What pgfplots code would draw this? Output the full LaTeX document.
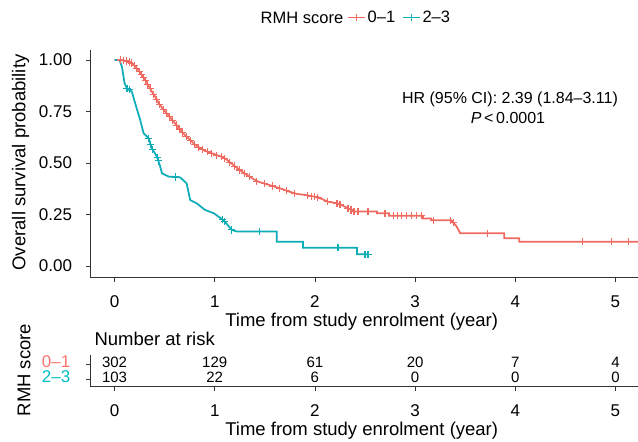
\documentclass[border=0pt]{standalone}
\usepackage{fontspec}
\setmainfont{Liberation Sans}
\usepackage{pgfplots}
\pgfplotsset{compat=1.18}
\definecolor{kmred}{HTML}{EF6B61}
\definecolor{kmteal}{HTML}{0DADB8}
\definecolor{lblred}{HTML}{F8766D}
\definecolor{lblteal}{HTML}{00BFC4}
\definecolor{axgrey}{HTML}{333333}

\newcommand{\fs}[1]{\fontsize{#1bp}{#1bp}\selectfont}

\pgfplotsset{
  kmbase/.style={
    scale only axis, width=547.5bp,
    xmin=-0.24, xmax=5.225,
    axis x line*=bottom, axis y line*=left,
    axis line style={axgrey, line width=0.8bp},
    tick style={axgrey, line width=0.8bp},
    tick align=outside, major tick length=4.5bp,
    xtick={0,1,2,3,4,5}, xticklabels={0,1,2,3,4,5},
    xticklabel style={font=\fs{17}, anchor=center, inner sep=0pt, yshift=-19.3bp},
    yticklabel style={anchor=east, inner sep=0pt},
  },
  censor/.style={only marks, mark=+, mark size=3.6bp, line width=1.1bp},
  kmline/.style={line width=1.75bp},
}

\begin{document}
\begin{tikzpicture}
\path[use as bounding box] (0,0) rectangle (638bp,-442bp);

% survival curves
\begin{axis}[kmbase,
  at={(90.5bp,-277.7bp)}, anchor=south west,
  height=228bp, ymin=-0.057, ymax=1.05,
  ytick={0,0.25,0.5,0.75,1}, yticklabels={0.00,0.25,0.50,0.75,1.00},
  yticklabel style={font=\fs{17}, xshift=-13.8bp},
  legend style={at={(0.5644,1.1412)}, anchor=center, draw=none, fill=none,
    font=\fs{16.5}, legend columns=-1,
    /tikz/every even column/.append style={column sep=4.5bp}},
  legend image code/.code={
    \draw[#1, line width=1.75bp] (0bp,0bp) -- (17bp,0bp);
    \draw[#1, line width=1.1bp] (8.5bp,-3.6bp) -- (8.5bp,3.6bp);
  },
]
\addlegendimage{kmred}
\addlegendentry{0–1}
\addlegendimage{kmteal}
\addlegendentry{2–3}

% RMH score 0-1
\addplot[kmred, kmline, forget plot] coordinates {
(0,1.0)(0.06,1.0)(0.10,0.997)(0.157,0.99)(0.19,0.978)(0.223,0.96)(0.26,0.935)
(0.306,0.903)(0.34,0.875)(0.373,0.846)(0.41,0.818)(0.44,0.79)(0.48,0.765)
(0.52,0.741)(0.57,0.712)(0.62,0.684)(0.67,0.652)(0.71,0.632)(0.755,0.612)
(0.80,0.59)(0.855,0.571)(0.92,0.556)(0.99,0.544)(1.04,0.535)(1.087,0.528)
(1.14,0.508)(1.186,0.49)(1.25,0.466)(1.32,0.442)(1.38,0.424)(1.436,0.409)
(1.55,0.392)(1.652,0.377)(1.73,0.363)(1.818,0.35)(1.90,0.345)(2.0,0.336)
(2.07,0.325)(2.13,0.312)(2.23,0.304)(2.29,0.29)(2.33,0.28)(2.39,0.264)
(2.62,0.264)(2.62,0.256)(2.74,0.256)(2.74,0.244)(3.08,0.244)(3.08,0.231)
(3.16,0.231)(3.16,0.222)(3.36,0.222)(3.38,0.21)(3.41,0.195)(3.43,0.178)
(3.45,0.159)(3.89,0.159)(3.89,0.134)(4.04,0.134)(4.04,0.118)(5.23,0.118)
};
\addplot[kmred, censor, forget plot] coordinates {
(0.06,1.0)(0.09,0.998)(0.12,0.995)(0.15,0.99)(0.17,0.985)(0.2,0.975)(0.22,0.96)
(0.25,0.943)(0.27,0.93)(0.29,0.915)(0.31,0.9)(0.33,0.883)(0.36,0.86)(0.39,0.833)
(0.42,0.808)(0.45,0.785)(0.49,0.76)(0.52,0.741)(0.55,0.724)(0.58,0.706)
(0.62,0.684)(0.65,0.665)(0.68,0.646)(0.72,0.627)(0.76,0.61)(0.8,0.59)
(0.84,0.575)(0.88,0.565)(0.93,0.554)(0.97,0.547)(1.02,0.538)(1.07,0.53)
(1.1,0.522)(1.15,0.504)(1.2,0.485)(1.25,0.466)(1.3,0.449)(1.35,0.433)
(1.42,0.412)(1.5,0.4)(1.58,0.388)(1.65,0.377)(1.72,0.365)(1.8,0.352)
(1.93,0.342)(1.97,0.339)(2.0,0.336)(2.03,0.331)(2.13,0.312)(2.22,0.305)
(2.25,0.30)(2.33,0.28)(2.36,0.272)(2.39,0.264)(2.43,0.264)(2.53,0.264)
(2.7,0.256)(2.78,0.244)(2.82,0.244)(2.86,0.244)(2.91,0.244)(2.96,0.244)
(3.01,0.244)(3.06,0.244)(3.18,0.222)(3.35,0.222)(3.38,0.21)(3.72,0.159)
(4.67,0.118)(4.96,0.118)(5.13,0.118)
};

% RMH score 2-3
\addplot[kmteal, kmline, forget plot] coordinates {
(0,1.0)(0.05,1.0)(0.074,0.967)(0.1,0.887)(0.124,0.862)(0.173,0.846)(0.206,0.79)
(0.256,0.709)(0.29,0.644)(0.34,0.62)(0.373,0.571)(0.423,0.531)(0.456,0.482)
(0.473,0.45)(0.54,0.434)(0.655,0.43)(0.72,0.401)(0.755,0.32)(0.82,0.304)
(0.904,0.272)(0.99,0.256)(1.087,0.223)(1.17,0.175)(1.22,0.167)(1.62,0.167)
(1.62,0.118)(1.88,0.118)(1.88,0.088)(2.42,0.088)(2.42,0.057)(2.53,0.057)
};
\addplot[kmteal, censor, forget plot] coordinates {
(0.124,0.862)(0.15,0.855)(0.34,0.62)(0.36,0.59)(0.38,0.565)(0.43,0.525)
(0.44,0.51)(0.61,0.432)(1.08,0.225)(1.10,0.215)(1.17,0.175)(1.45,0.167)
(2.23,0.088)(2.5,0.057)(2.53,0.057)
};
\end{axis}

% number at risk
\begin{axis}[kmbase,
  at={(90.5bp,-386.7bp)}, anchor=south west,
  height=31.5bp, ymin=0.5, ymax=2.6,
  ytick={1,2}, yticklabels={\textcolor{lblteal}{2–3},\textcolor{lblred}{0–1}},
  yticklabel style={font=\fs{17}, xshift=-15.5bp, text height=0.7em, text depth=0pt},
  clip=false,
]
\addplot[draw=none, forget plot] coordinates {(0,1)(5,2)};
\begin{scope}[every node/.style={font=\fs{15}, inner sep=0pt, text height=0.7em, text depth=0pt}]
\node at (axis cs:0,2) {302};
\node at (axis cs:1,2) {129};
\node at (axis cs:2,2) {61};
\node at (axis cs:3,2) {20};
\node at (axis cs:4,2) {7};
\node at (axis cs:5,2) {4};
\node at (axis cs:0,1) {103};
\node at (axis cs:1,1) {22};
\node at (axis cs:2,1) {6};
\node at (axis cs:3,1) {0};
\node at (axis cs:4,1) {0};
\node at (axis cs:5,1) {0};
\end{scope}
\end{axis}

% titles and labels
\node[font=\fs{16.5}] at (302bp,-17.5bp) {RMH score};
\node[font=\fs{18.5}, rotate=90] at (20.7bp,-162.5bp) {Overall survival probability};
\node[font=\fs{18.5}] at (361.7bp,-322bp) {Time from study enrolment (year)};
\node[font=\fs{18.5}] at (361.7bp,-431bp) {Time from study enrolment (year)};
\node[font=\fs{18.5}, rotate=90] at (24bp,-370bp) {RMH score};
\node[font=\fs{18.5}, anchor=west] at (91bp,-339bp) {Number at risk};
\node[font=\fs{16}] at (510bp,-99bp) {HR (95\% CI): 2.39 (1.84–3.11)};
\node[font=\fs{16}] at (508bp,-117.5bp) {\textit{P}\,<\,0.0001};
\end{tikzpicture}
\end{document}
